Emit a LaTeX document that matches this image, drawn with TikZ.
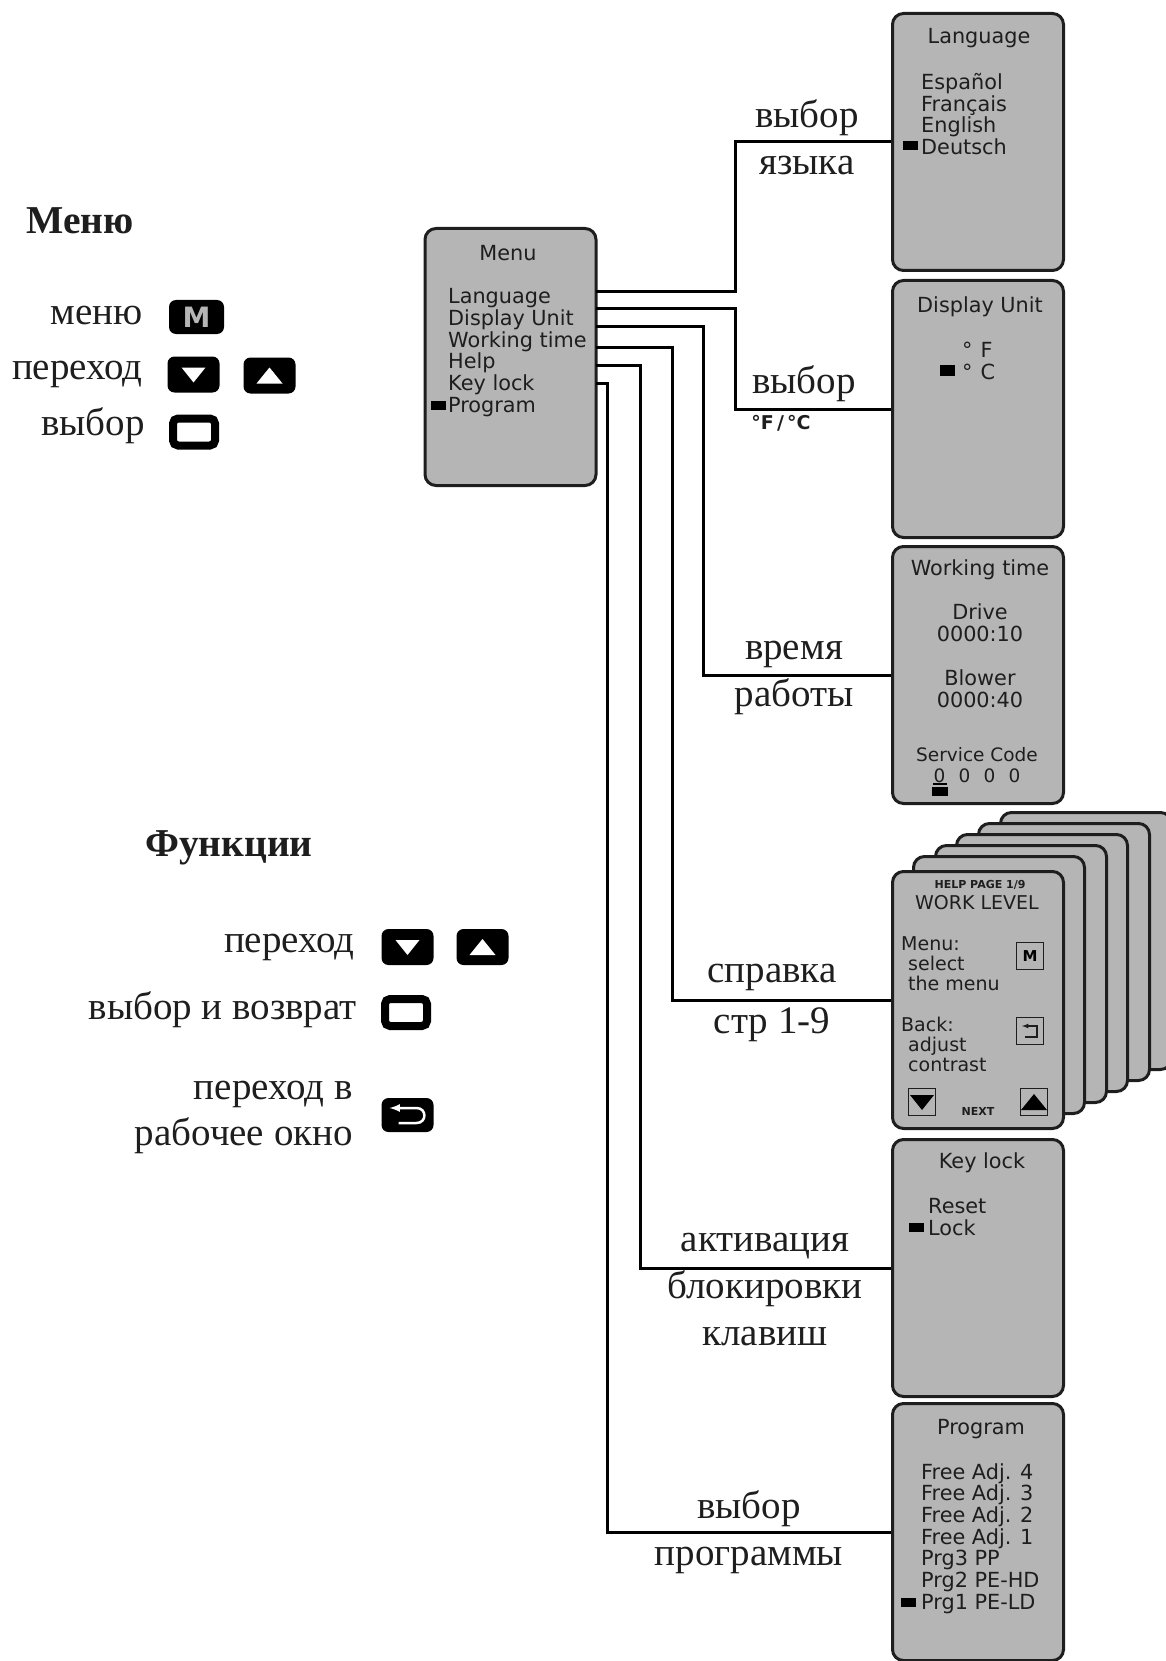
\documentclass[tikz,border=0pt]{standalone}
\usepackage{fontspec}
\setmainfont{Liberation Serif}
\newfontfamily\lcdfont{DejaVu Sans}
\usetikzlibrary{positioning}
\definecolor{screengray}{HTML}{B5B5B5}
\definecolor{inkdark}{HTML}{1E1E1E}
\newcommand{\downglyph}[2][white]{\fill[#1] ([shift={(-12,-7)}]#2.center) -- ([shift={(12,-7)}]#2.center) -- ([shift={(0,8)}]#2.center) -- cycle;}
\newcommand{\upglyph}[2][white]{\fill[#1] ([shift={(-13,8)}]#2.center) -- ([shift={(13,8)}]#2.center) -- ([shift={(0,-8)}]#2.center) -- cycle;}
\begin{document}
\begin{tikzpicture}[x=1pt,y=-1pt,
 screen/.style={draw=inkdark,line width=3pt,rounded corners=11pt,fill=screengray,minimum width=171pt,minimum height=257pt,inner sep=0pt},
 conn/.style={line width=3pt,draw=black},
 lcd/.style={font=\lcdfont\fontsize{20.8}{21.7}\selectfont,text=inkdark,inner sep=0pt,align=left},
 lcdc/.style={lcd,align=center},
 small/.style={font=\lcdfont\fontsize{19}{20}\selectfont},
 tiny/.style={font=\lcdfont\bfseries\fontsize{11}{12}\selectfont},
 curs/.style={fill=black,inner sep=0pt,minimum width=15pt,minimum height=9pt},
 lbl/.style={font=\fontsize{39}{47}\selectfont,text=inkdark,align=center,inner sep=0pt},
 side/.style={font=\fontsize{39}{46}\selectfont,text=inkdark,align=right,inner sep=0pt,anchor=east},
 head/.style={font=\bfseries\fontsize{39.5}{44}\selectfont,text=inkdark,inner sep=0pt},
 btn/.style={fill=black,rounded corners=7pt,minimum width=52pt,minimum height=36pt,inner sep=0pt},
 selbtn/.style={draw=black,fill=white,line width=8pt,rounded corners=5pt,minimum width=42pt,minimum height=27pt,inner sep=0pt},
 tinybtn/.style={draw=inkdark,line width=1.5pt,minimum width=27pt,minimum height=27pt,inner sep=0pt}]
\clip (0,0) rectangle (1166,1661);

% screens
\node[screen] (menu) at (510.5,357) {};
\node[screen] (lang) at (978,142) {};
\node[screen] (unit) at (978,409) {};
\node[screen] (work) at (978,675) {};
\foreach \i/\cx/\cy in {6/1086/941,5/1064/952,4/1042/963,3/1021/974,2/999/985}
  \node[screen] (help\i) at (\cx,\cy) {};
\node[screen] (help) at (978,1000) {};
\node[screen] (keyl) at (978,1268) {};
\node[screen] (prog) at (978,1532) {};

% connectors
\coordinate (outlang) at (596,292);
\coordinate (outunit) at (596,309);
\coordinate (outwork) at (596,326);
\coordinate (outhelp) at (596,347);
\coordinate (outkeyl) at (596,365);
\coordinate (outprog) at (596,383);
\draw[conn] (outlang) -- ++(139,0) |- (lang);
\draw[conn] (outunit) -- ++(139,0) |- (unit);
\draw[conn] (outwork) -- ++(107,0) |- (work);
\draw[conn] (outhelp) -- ++(76,0) |- (help);
\draw[conn] (outkeyl) -- ++(44,0) |- (keyl);
\draw[conn] (outprog) -- ++(11,0) |- (prog);

% menu text
\node[lcd] (menutitle) at (508,253) {Menu};
\node[lcd,anchor=west] (menuitems) at (448,352.5) {Language\\Display Unit\\Working time\\Help\\Key lock\\Program};
\node[curs] (menucurs) at (438,405) {};

\node[lcd] (langtitle) at (979,38) {Language};
\node[lcd,anchor=west] (langitems) at (921,114) {Español\\Français\\English\\Deutsch};
\node[curs] (langcurs) at (910,146) {};

\node[lcd] (unittitle) at (980,307) {Display Unit};
\node[lcd,anchor=west] (unititems) at (962,361) {°\hspace{8pt}F\\°\hspace{8pt}C};
\node[curs,minimum height=11pt] (unitcurs) at (947.5,370.5) {};

\node[lcd] (worktitle) at (980,570) {Working time};
\node[lcdc] (workdrive) at (980,623) {Drive\\0000:10};
\node[lcdc] (workblow) at (980,689) {Blower\\0000:40};
\node[lcdc,font=\lcdfont\fontsize{18.5}{21.7}\selectfont] (workcode) at (977,765) {Service Code\\0\hspace{13.2pt}0\hspace{13.2pt}0\hspace{13.2pt}0};
\draw[line width=1.5pt] (933,784) -- (947,784);
\node[curs,minimum width=16pt] (workcurs) at (940,791.5) {};

\node[lcd,tiny] (helppage) at (980,885) {HELP PAGE 1/9};
\node[lcd,small] (helplevel) at (977,903) {WORK LEVEL};
\node[lcd,anchor=west,small] (helpmenu) at (901,964) {Menu:\\\hspace{7pt}select\\\hspace{7pt}the menu};
\node[lcd,anchor=west,small] (helpback) at (901,1044) {Back:\\\hspace{7pt}adjust\\\hspace{7pt}contrast};
\node[lcd,tiny] (helpnext) at (978,1111) {NEXT};
\node[tinybtn,font=\lcdfont\bfseries\fontsize{15}{15}\selectfont] (helpm) at (1030,956) {M};
\node[tinybtn] (helpret) at (1030,1031) {};
\draw[-latex,line width=1.2pt,inkdark] ([shift={(-5,6)}]helpret.center) -- ([shift={(7,6)}]helpret.center) -- ([shift={(7,-5)}]helpret.center) -- ([shift={(-8,-5)}]helpret.center);
\node[tinybtn] (helpdn) at (922,1102) {};
\node[tinybtn] (helpup) at (1034,1102) {};
\downglyph[black]{helpdn}
\upglyph[black]{helpup}

\node[lcd] (keyltitle) at (982,1163) {Key lock};
\node[lcd,anchor=west] (keylitems) at (928,1217) {Reset\\Lock};
\node[curs] (keylcurs) at (916,1227) {};

\node[lcd] (progtitle) at (981,1429) {Program};
\node[lcd,anchor=west] (progitems) at (921,1538.5) {Free Adj. 4\\Free Adj. 3\\Free Adj. 2\\Free Adj. 1\\Prg3 PP\\Prg2 PE-HD\\Prg1 PE-LD};
\node[curs] (progcurs) at (908,1602) {};

% connector labels
\node[lbl] (lbllang) at (807,137) {выбор\\языка};
\node[lbl] (lblunit) at (804,384) {выбор};
\node[lcd,font=\lcdfont\bfseries\fontsize{19}{19}\selectfont] (lblunitsub) at (781,423) {°F\,/\,°C};
\node[lbl] (lblwork) at (794,678) {время\\работы};
\node[lbl,font=\fontsize{39}{51}\selectfont] (lblhelp) at (772,1003) {справка\\стр 1-9};
\node[lbl] (lblkeyl) at (765,1290) {активация\\блокировки\\клавиш};
\node[lbl] (lblprog) at (749,1532) {выбор\\программы};

% key legend, menu
\node[head] (headmenu) at (80,221) {Меню};
\node[side] (sidemenu) at (143,316) {меню};
\node[side] (sidemove) at (143,374) {переход};
\node[side] (sidesel) at (145,426) {выбор};
\node[btn,minimum width=55pt,minimum height=34pt,text=screengray,font=\lcdfont\bfseries\fontsize{28}{28}\selectfont] (btnm) at (196.5,317) {M};
\node[btn] (btndn) at (193.5,374.5) {};
\node[btn] (btnup) at (269.5,375.5) {};
\downglyph{btndn}
\upglyph{btnup}
\node[selbtn] (btnsel) at (194,432) {};

% key legend, functions
\node[head] (headfunc) at (229,848) {Функции};
\node[side] (funcmove) at (355,947) {переход};
\node[side] (funcsel) at (357,1010) {выбор и возврат};
\node[side] (funcback) at (353,1117) {переход в\\рабочее окно};
\node[btn] (fbtndn) at (407.5,947) {};
\node[btn] (fbtnup) at (482.5,947) {};
\downglyph{fbtndn}
\upglyph{fbtnup}
\node[selbtn] (fbtnsel) at (406,1012.5) {};
\node[btn,minimum height=34pt] (fbtnret) at (407.5,1115) {};
\draw[-latex,line width=2.5pt,white] ([shift={(-9,8)}]fbtnret.center) -- ([shift={(9,8)}]fbtnret.center) to[out=0,in=0,looseness=1.8] ([shift={(9,-7)}]fbtnret.center) -- ([shift={(-18,-7)}]fbtnret.center);
\end{tikzpicture}
\end{document}
